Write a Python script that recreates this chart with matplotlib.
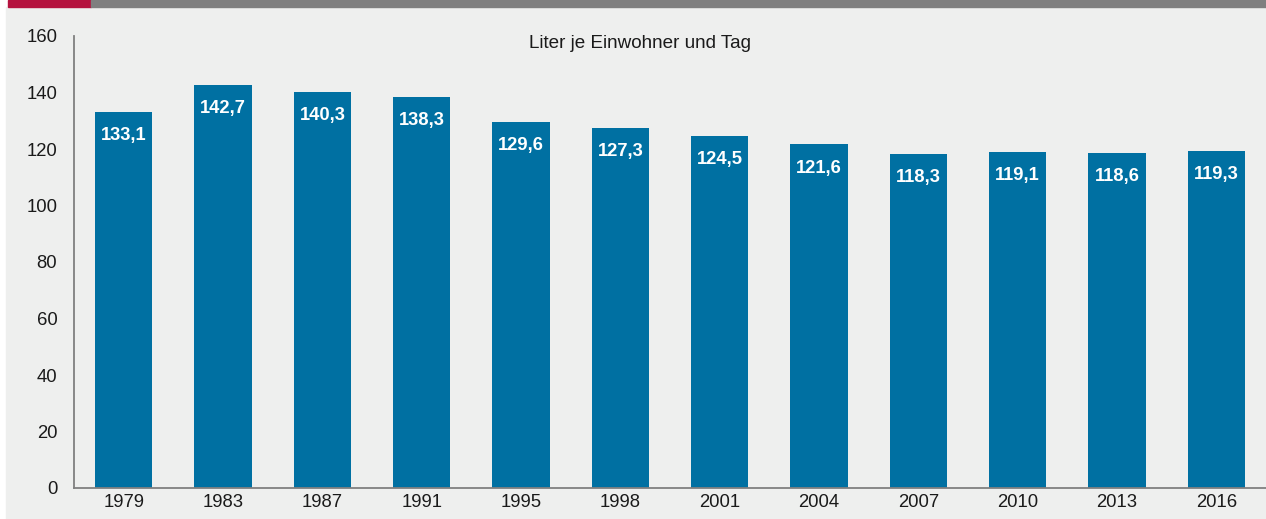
import matplotlib.pyplot as plt
from matplotlib.patches import Rectangle

plt.rcParams['font.family'] = ['Liberation Sans', 'DejaVu Sans']

# Data
years = ["1979", "1983", "1987", "1991", "1995", "1998",
         "2001", "2004", "2007", "2010", "2013", "2016"]
liters = [133.1, 142.7, 140.3, 138.3, 129.6, 127.3,
          124.5, 121.6, 118.3, 119.1, 118.6, 119.3]
yticks = [0, 20, 40, 60, 80, 100, 120, 140, 160]

W, H = 1266, 519
fig = plt.figure(figsize=(W / 100, H / 100), dpi=100)
fig.patch.set_facecolor("white")

# background panel and top stripe
fig.patches.append(Rectangle((6 / W, 0), 1 - 6 / W, 1 - 7 / H,
                             transform=fig.transFigure, color="#eeefee", zorder=-2))
fig.patches.append(Rectangle((8 / W, 1 - 7 / H), 83 / W, 7 / H,
                             transform=fig.transFigure, color="#b5123e", zorder=-1))
fig.patches.append(Rectangle((91 / W, 1 - 7 / H), 1 - 91 / W, 7 / H,
                             transform=fig.transFigure, color="#7f7f7f", zorder=-1))

ax = fig.add_axes([74 / W, 1 - 488 / H, 1 - 74 / W, (488 - 36) / H])
ax.set_facecolor("none")

x = range(len(years))
bars = ax.bar(x, liters, width=0.575, color="#0070a2")

for b, v in zip(bars, liters):
    ax.annotate(f"{v:.1f}".replace(".", ","),
                (b.get_x() + b.get_width() / 2, v),
                xytext=(0, -17), textcoords="offset points",
                ha="center", va="center", color="white",
                fontsize=13.2, fontweight="bold")

ax.set_xlim(-0.5, 11.5)
ax.set_ylim(0, 160)
ax.set_yticks(yticks)
ax.set_xticks(list(x))
ax.set_xticklabels(years)
ax.tick_params(axis="both", length=0, labelsize=13.3, colors="#1a1a1a")
ax.tick_params(axis="y", pad=12)
ax.tick_params(axis="x", pad=4)

for s in ["top", "right"]:
    ax.spines[s].set_visible(False)
for s in ["left", "bottom"]:
    ax.spines[s].set_color("#808080")
    ax.spines[s].set_linewidth(1.3)

fig.text(640 / W, 1 - 35 / H, "Liter je Einwohner und Tag",
         ha="center", va="top", fontsize=13.6, color="#1a1a1a")

fig.savefig("out.png", dpi=100)
